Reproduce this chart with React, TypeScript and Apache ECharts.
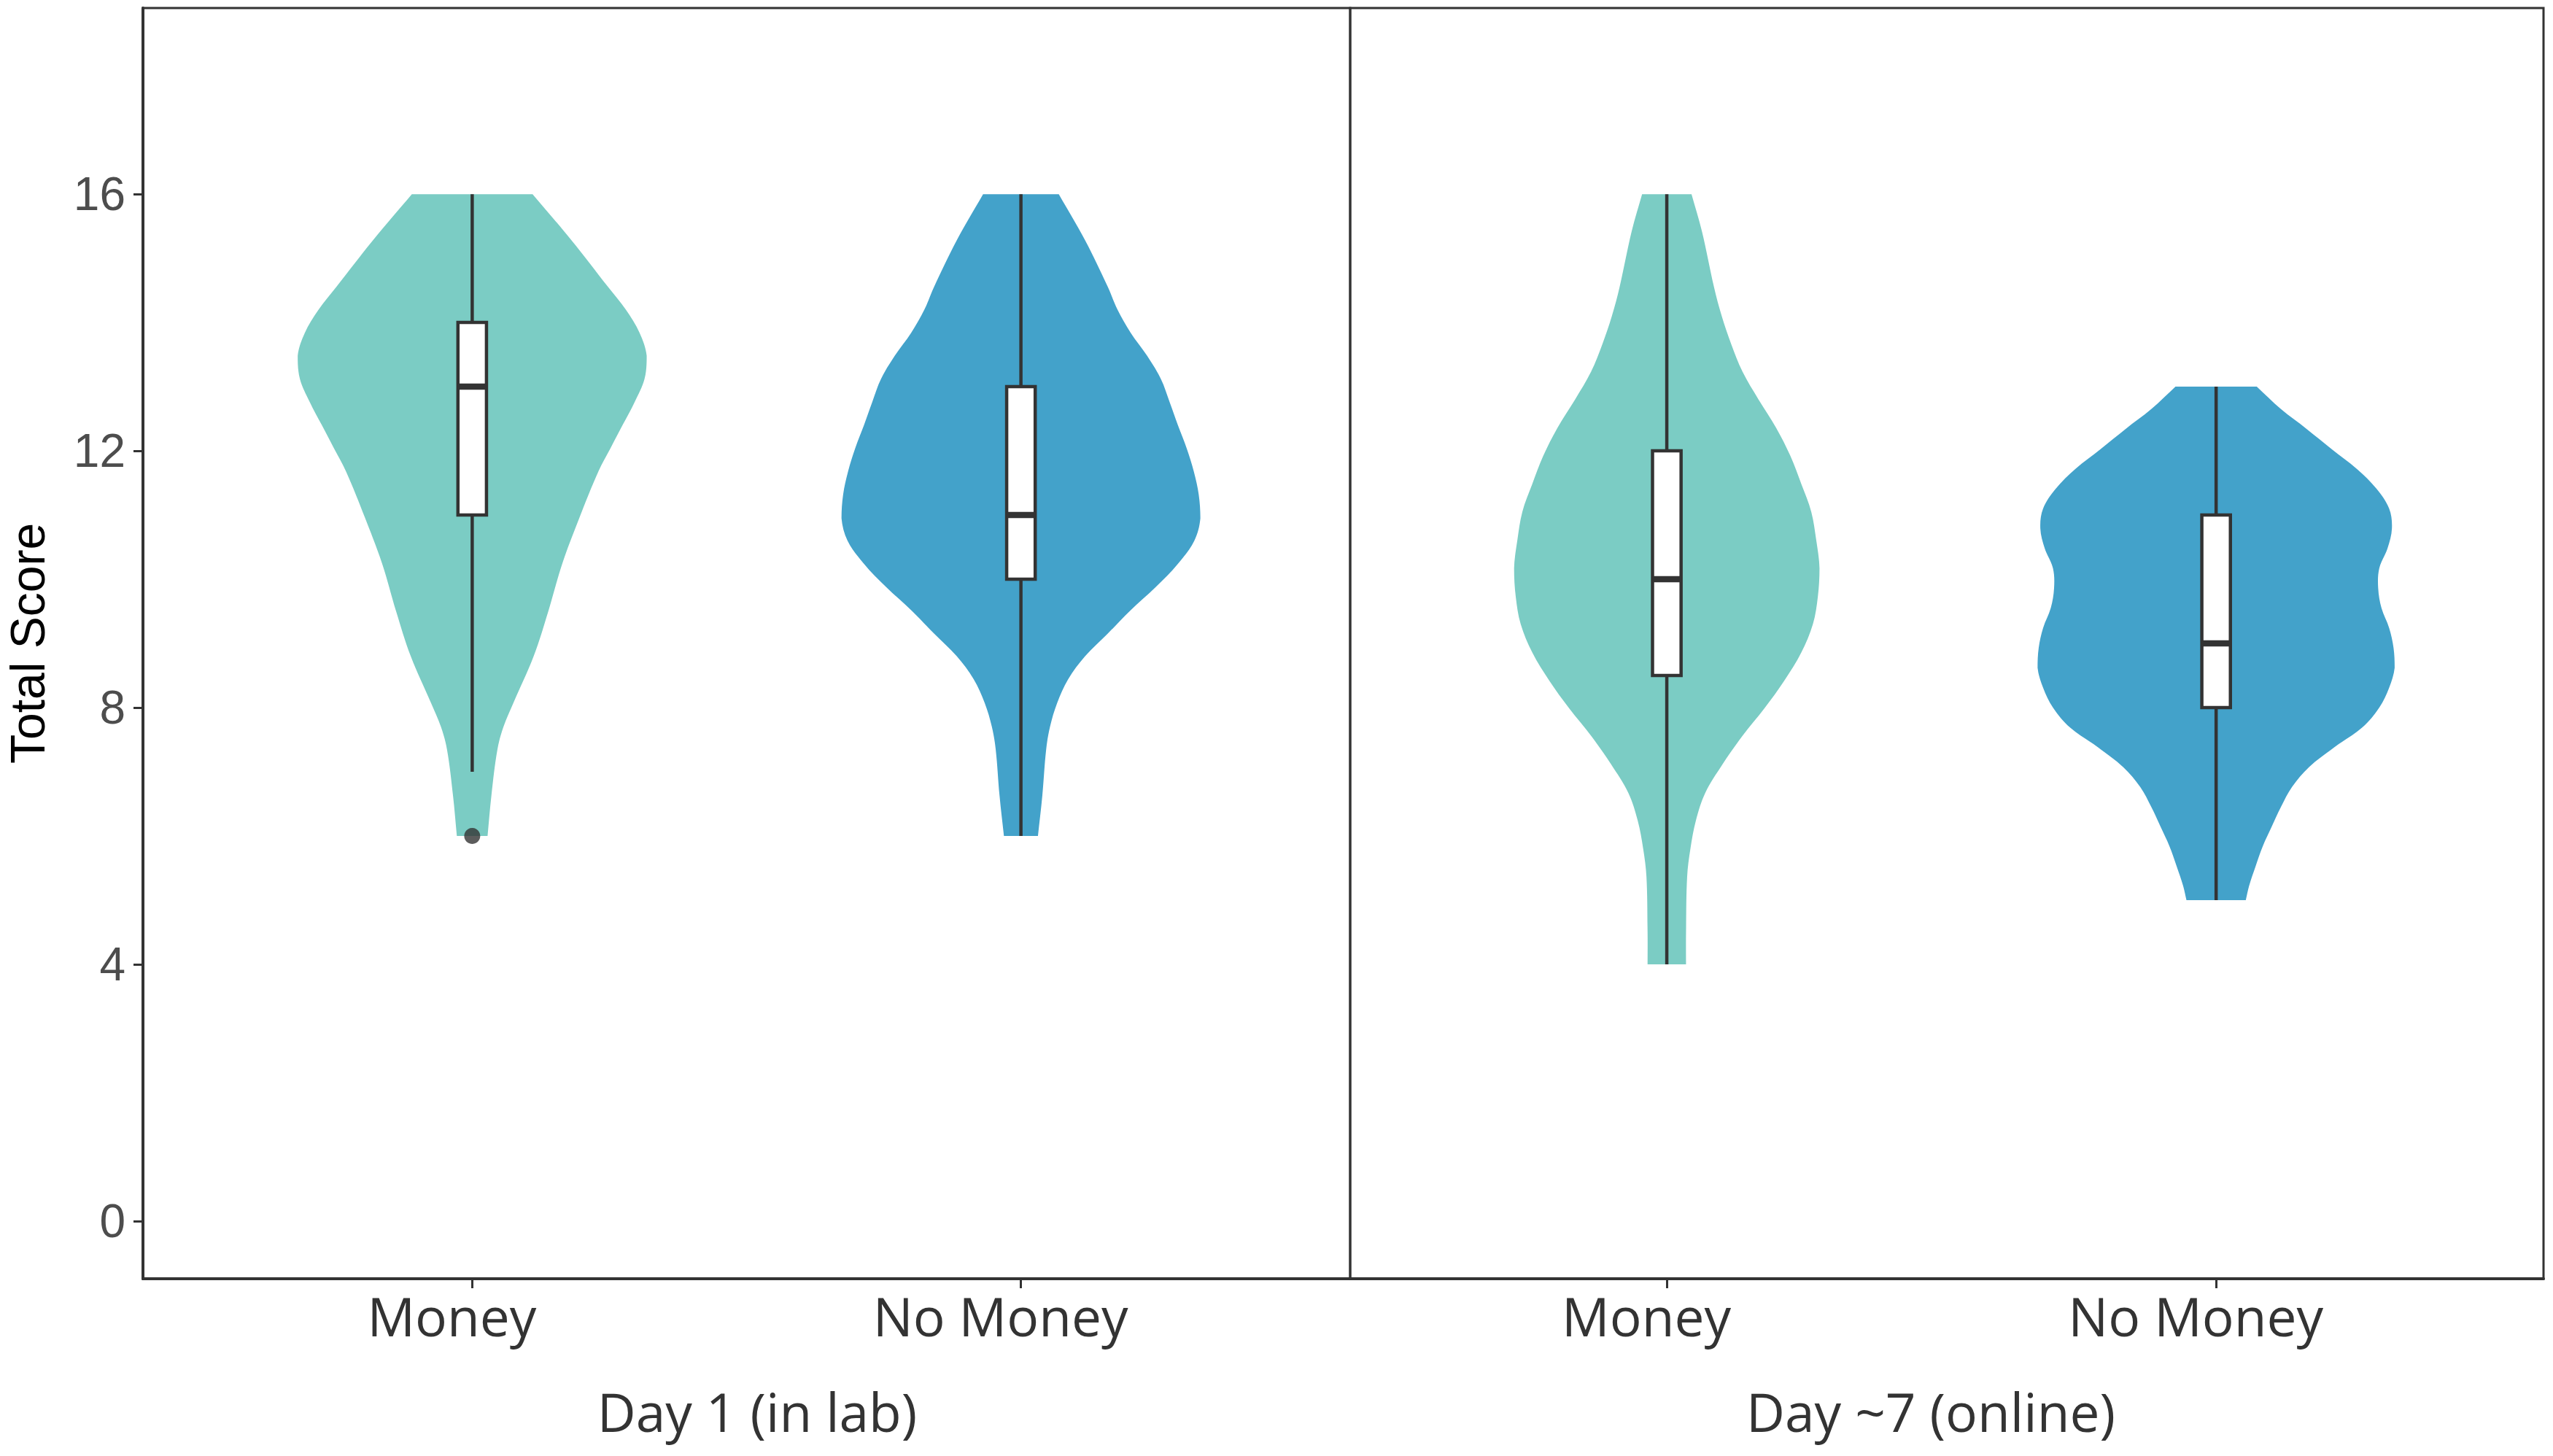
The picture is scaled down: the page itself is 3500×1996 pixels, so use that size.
import React, { useEffect, useRef } from "react";
import * as echarts from "echarts";

// ---------- data ----------
const groups = ["Money", "No Money"];
const panelTitles = ["Day 1 (in lab)", "Day ~7 (online)"];
const yTicks = [0, 4, 8, 12, 16];
const fillColors = ["#7bccc4", "#43a2ca"];

// violin outlines: score values and half widths (in category units)
const d1MoneyY = [16.0, 15.28, 14.56, 14.2, 13.84, 13.48, 13.12, 12.76, 12.4, 12.04, 11.68, 10.95, 10.24, 9.51, 8.8, 8.07, 7.7, 7.35, 6.63, 6.0];
const d1MoneyW = [0.110, 0.181, 0.247, 0.280, 0.305, 0.318, 0.314, 0.296, 0.274, 0.252, 0.230, 0.195, 0.164, 0.139, 0.112, 0.075, 0.057, 0.046, 0.035, 0.028];

const d1NoMoneyY = [16.0, 15.28, 14.56, 14.2, 13.84, 13.48, 13.12, 12.76, 12.4, 12.04, 11.68, 11.32, 10.95, 10.6, 10.24, 9.88, 9.51, 9.15, 8.8, 8.44, 8.07, 7.7, 7.35, 6.63, 6.0];
const d1NoMoneyW = [0.069, 0.117, 0.158, 0.176, 0.200, 0.230, 0.255, 0.271, 0.286, 0.302, 0.315, 0.324, 0.327, 0.316, 0.286, 0.246, 0.199, 0.158, 0.117, 0.086, 0.066, 0.053, 0.046, 0.039, 0.031];

const d7MoneyY = [16.0, 15.42, 14.55, 14.1, 13.67, 13.23, 12.8, 12.36, 11.92, 11.48, 11.05, 10.61, 10.17, 9.73, 9.3, 8.86, 8.42, 7.99, 7.55, 7.11, 6.67, 6.24, 5.8, 5.36, 4.49, 4.0];
const d7MoneyW = [0.045, 0.064, 0.086, 0.100, 0.117, 0.138, 0.167, 0.199, 0.225, 0.245, 0.263, 0.272, 0.278, 0.275, 0.266, 0.245, 0.214, 0.178, 0.137, 0.101, 0.070, 0.053, 0.043, 0.037, 0.035, 0.035];

const d7NoMoneyY = [13.0, 12.65, 12.34, 12.03, 11.72, 11.41, 11.1, 10.79, 10.48, 10.17, 9.86, 9.55, 9.24, 8.93, 8.62, 8.31, 8.0, 7.69, 7.38, 7.07, 6.76, 6.45, 6.14, 5.84, 5.53, 5.22, 5.0];
const d7NoMoneyW = [0.074, 0.118, 0.165, 0.210, 0.256, 0.292, 0.315, 0.320, 0.312, 0.297, 0.295, 0.301, 0.315, 0.323, 0.325, 0.315, 0.297, 0.266, 0.215, 0.169, 0.138, 0.118, 0.101, 0.085, 0.072, 0.060, 0.054];

// box plot statistics: [min, q1, median, q3, max]
const d1Box = [
  [7, 11, 13, 14, 16],
  [6, 10, 11, 13, 16],
];
const d7Box = [
  [4, 8.5, 10, 12, 16],
  [5, 8, 9, 11, 13],
];
// outliers: [group position, score]
const d1Outliers = [[1, 6]];
const d7Outliers: number[][] = [];

const violinsByPanel = [
  [
    { y: d1MoneyY, w: d1MoneyW },
    { y: d1NoMoneyY, w: d1NoMoneyW },
  ],
  [
    { y: d7MoneyY, w: d7MoneyW },
    { y: d7NoMoneyY, w: d7NoMoneyW },
  ],
];
const boxesByPanel = [d1Box, d7Box];
const outliersByPanel = [d1Outliers, d7Outliers];

// ---------- style ----------
const DARK = "#333333";
const TICK_GREY = "#4d4d4d";
const SANS = "'Liberation Sans', Arial, Helvetica, sans-serif";
const HUMAN = "'Open Sans', 'Noto Sans', sans-serif";
const BOX_HALF = 0.026;

export default function App() {
  const ref = useRef<HTMLDivElement>(null);

  useEffect(() => {
    if (!ref.current) return;
    const chart = echarts.init(ref.current, undefined, { renderer: "svg" });

    const grids = [
      { left: 196, top: 11, width: 1655, height: 1742 },
      { left: 1851, top: 11, width: 1636, height: 1742 },
    ];
    const xRanges = [
      [0.4, 2.6],
      [0.4236, 2.596],
    ];

    const series: any[] = [];
    [0, 1].forEach((p) => {
      violinsByPanel[p].forEach((v, gi) => {
        series.push({
          type: "custom",
          xAxisIndex: p,
          yAxisIndex: p,
          z: 2,
          data: [[gi + 1, v.y[0]]],
          renderItem: (params: any, api: any) => {
            const xc = api.value(0);
            const right = v.y.map((yy, i) => api.coord([xc + v.w[i], yy]));
            const left = v.y
              .map((yy, i) => api.coord([xc - v.w[i], yy]))
              .reverse();
            // repeat the end points so the flat ends keep sharp corners
            const pts: number[][] = [];
            const pushSide = (side: number[][]) => {
              pts.push(side[0]);
              side.forEach((pt) => pts.push(pt));
              pts.push(side[side.length - 1]);
            };
            pushSide(right);
            pushSide(left);
            let minX = Infinity, minY = Infinity, maxX = -Infinity, maxY = -Infinity;
            pts.forEach((pt) => {
              minX = Math.min(minX, pt[0]);
              maxX = Math.max(maxX, pt[0]);
              minY = Math.min(minY, pt[1]);
              maxY = Math.max(maxY, pt[1]);
            });
            return {
              type: "polygon",
              shape: {
                points: pts,
                smooth: 0.35,
                smoothConstraint: [
                  [minX, minY],
                  [maxX, maxY],
                ],
              },
              style: { fill: fillColors[gi], stroke: "none" },
            };
          },
        });
      });
      series.push({
        type: "custom",
        xAxisIndex: p,
        yAxisIndex: p,
        z: 3,
        data: boxesByPanel[p].map((b, gi) => [gi + 1, ...b]),
        encode: { x: 0, y: [1, 2, 3, 4, 5] },
        renderItem: (params: any, api: any) => {
          const xc = api.value(0);
          const mn = api.value(1);
          const q1 = api.value(2);
          const md = api.value(3);
          const q3 = api.value(4);
          const mx = api.value(5);
          const pMin = api.coord([xc, mn]);
          const pMax = api.coord([xc, mx]);
          const tl = api.coord([xc - BOX_HALF, q3]);
          const br = api.coord([xc + BOX_HALF, q1]);
          const ml = api.coord([xc - BOX_HALF, md]);
          const mr = api.coord([xc + BOX_HALF, md]);
          const lineStyle = { stroke: DARK, lineWidth: 4.5 };
          return {
            type: "group",
            children: [
              { type: "line", shape: { x1: pMax[0], y1: pMax[1], x2: pMax[0], y2: tl[1] }, style: lineStyle },
              { type: "line", shape: { x1: pMin[0], y1: br[1], x2: pMin[0], y2: pMin[1] }, style: lineStyle },
              {
                type: "rect",
                shape: { x: tl[0], y: tl[1], width: br[0] - tl[0], height: br[1] - tl[1] },
                style: { fill: "#ffffff", stroke: DARK, lineWidth: 4.5 },
              },
              { type: "line", shape: { x1: ml[0], y1: ml[1], x2: mr[0], y2: mr[1] }, style: { stroke: DARK, lineWidth: 8.5 } },
            ],
          };
        },
      });
      if (outliersByPanel[p].length) {
        series.push({
          type: "scatter",
          xAxisIndex: p,
          yAxisIndex: p,
          z: 4,
          symbol: "circle",
          symbolSize: 22,
          itemStyle: { color: DARK },
          data: outliersByPanel[p],
        });
      }
    });

    const option: any = {
      animation: false,
      backgroundColor: "#ffffff",
      grid: grids.map((g) => ({
        ...g,
        show: true,
        borderColor: DARK,
        borderWidth: 3,
        backgroundColor: "transparent",
        containLabel: false,
      })),
      xAxis: [0, 1].map((p) => ({
        type: "value",
        gridIndex: p,
        min: xRanges[p][0],
        max: xRanges[p][1],
        splitLine: { show: false },
        axisLine: { show: true, onZero: false, lineStyle: { color: DARK, width: 4 } },
        axisTick: { show: true, customValues: [1, 2], length: 13, lineStyle: { color: DARK, width: 3 } },
        axisLabel: {
          show: true,
          customValues: [1, 2],
          formatter: (v: number) => groups[Math.round(v) - 1] || "",
          color: DARK,
          fontFamily: HUMAN,
          fontSize: 73,
          margin: 14,
          padding: [0, 56, 0, 0],
        },
      })),
      yAxis: [0, 1].map((p) => ({
        type: "value",
        gridIndex: p,
        min: -0.9,
        max: 18.9,
        show: p === 0,
        splitLine: { show: false },
        axisLine: { show: true, lineStyle: { color: DARK, width: 4 } },
        axisTick: { show: true, customValues: yTicks, length: 13, lineStyle: { color: DARK, width: 3 } },
        axisLabel: {
          show: true,
          customValues: yTicks,
          color: TICK_GREY,
          fontFamily: SANS,
          fontSize: 64,
          margin: 24,
        },
        name: p === 0 ? "Total Score" : "",
        nameLocation: "middle",
        nameGap: 125,
        nameTextStyle: { color: "#000000", fontFamily: SANS, fontSize: 66 },
      })),
      graphic: [
        {
          type: "text",
          x: 1038,
          y: 1934,
          style: {
            text: panelTitles[0],
            fill: DARK,
            font: "73px 'Open Sans', 'Noto Sans', sans-serif",
            textAlign: "center",
            textVerticalAlign: "middle",
          },
        },
        {
          type: "text",
          x: 2647,
          y: 1934,
          style: {
            text: panelTitles[1],
            fill: DARK,
            font: "73px 'Open Sans', 'Noto Sans', sans-serif",
            textAlign: "center",
            textVerticalAlign: "middle",
          },
        },
      ],
      series,
    };

    chart.setOption(option);
    return () => chart.dispose();
  }, []);

  return (
    <div
      ref={ref}
      style={{ position: "fixed", left: 0, top: 0, width: 3500, height: 1996, background: "#ffffff" }}
    />
  );
}
